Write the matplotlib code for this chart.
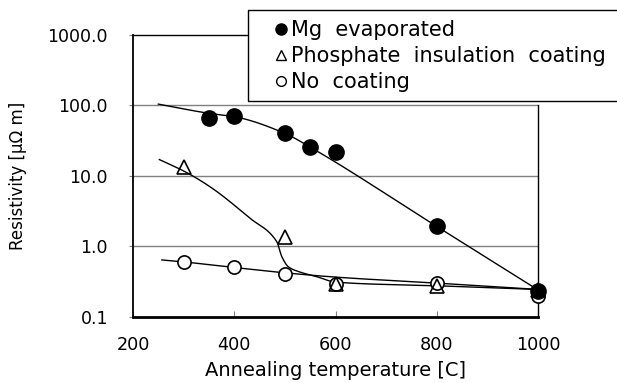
import numpy as np
import matplotlib
matplotlib.use('Agg')
import matplotlib.pyplot as plt
from matplotlib.lines import Line2D
from matplotlib.patches import Rectangle
from matplotlib.ticker import FixedLocator, FixedFormatter, NullLocator

plt.rcParams['font.family'] = ['DejaVu Sans']

# measured points
temp_mg = [350, 400, 500, 550, 600, 800, 1000]
res_mg = [66, 70, 40, 25.5, 22, 1.95, 0.23]

temp_ph = [300, 500, 600, 800, 1000]
res_ph = [13.5, 1.34, 0.29, 0.27, 0.24]

temp_nc = [300, 400, 500, 600, 800, 1000]
res_nc = [0.60, 0.51, 0.40, 0.29, 0.30, 0.20]

# hand drawn trend curves (guide points)
curve_mg_t = [250, 350, 400, 500, 550, 800, 1000]
curve_mg_r = [104, 77, 69, 40, 25.5, 1.91, 0.24]

curve_ph_t = [252, 303, 352, 431, 484, 494, 507, 530, 563, 600, 800, 1000]
curve_ph_r = [17, 11.4, 7.0, 2.5, 1.16, 0.71, 0.51, 0.43, 0.37, 0.31, 0.275, 0.244]

curve_nc_t = [257, 300, 400, 500, 600, 800, 1000]
curve_nc_r = [0.64, 0.60, 0.50, 0.42, 0.365, 0.30, 0.244]

labels = ['Mg  evaporated', 'Phosphate  insulation  coating', 'No  coating']
yticks = [0.1, 1, 10, 100, 1000]
ytick_labels = ['0.1', '1.0', '10.0', '100.0', '1000.0']
xticks = [200, 400, 600, 800, 1000]


def pchip(x, y, xs):
    # monotone cubic through the guide points
    x = np.asarray(x, float)
    y = np.asarray(y, float)
    h = np.diff(x)
    d = np.diff(y) / h
    m = np.zeros(len(x))
    m[0] = d[0]
    m[-1] = d[-1]
    for k in range(1, len(x) - 1):
        if d[k - 1] * d[k] <= 0:
            m[k] = 0
        else:
            w1 = 2 * h[k] + h[k - 1]
            w2 = h[k] + 2 * h[k - 1]
            m[k] = (w1 + w2) / (w1 / d[k - 1] + w2 / d[k])
    idx = np.clip(np.searchsorted(x, xs) - 1, 0, len(x) - 2)
    t = (xs - x[idx]) / h[idx]
    h00 = 2 * t**3 - 3 * t**2 + 1
    h10 = t**3 - 2 * t**2 + t
    h01 = -2 * t**3 + 3 * t**2
    h11 = t**3 - t**2
    return h00 * y[idx] + h10 * h[idx] * m[idx] + h01 * y[idx + 1] + h11 * h[idx] * m[idx + 1]


def smooth(t, r):
    xs = np.linspace(t[0], t[-1], 400)
    return xs, 10 ** pchip(t, np.log10(r), xs)


fig = plt.figure(figsize=(6.17, 3.83), dpi=100)
ax = fig.add_axes([0.2156, 0.173, 0.6564, 0.736])

ax.set_yscale('log')
ax.set_xlim(200, 1000)
ax.set_ylim(0.1, 1000)

for v in [1, 10, 100]:
    ax.axhline(v, color='#808080', lw=1, zorder=1)

for t, r in [(curve_mg_t, curve_mg_r), (curve_ph_t, curve_ph_r), (curve_nc_t, curve_nc_r)]:
    xs, ys = smooth(t, r)
    ax.plot(xs, ys, color='black', lw=1, zorder=2)

ax.plot(temp_nc, res_nc, 'o', ms=9.5, mfc='white', mec='black', mew=1.2, clip_on=False, zorder=3)
ax.plot(temp_ph, res_ph, '^', ms=9.5, mfc='none', mec='black', mew=1.2, clip_on=False, zorder=4)
ax.plot(temp_mg, res_mg, 'o', ms=11, color='black', clip_on=False, zorder=5)

ax.yaxis.set_major_locator(FixedLocator(yticks))
ax.yaxis.set_major_formatter(FixedFormatter(ytick_labels))
ax.yaxis.set_minor_locator(NullLocator())
ax.set_xticks(xticks)
ax.tick_params(axis='x', direction='in', length=4, color='#808080', pad=14, labelsize=12.7)
ax.tick_params(axis='y', direction='out', length=3, color='#808080', pad=15, labelsize=12.5)

ax.spines['left'].set_linewidth(1.3)
ax.spines['bottom'].set_linewidth(2)
ax.spines['top'].set_linewidth(1)
ax.spines['right'].set_linewidth(1)
ax.spines['right'].set_bounds(0.1, 100)

ax.set_xlabel('Annealing temperature [C]', fontsize=14)
ax.xaxis.label.set_va('center')
ax.xaxis.set_label_coords(0.5, -0.189)
ax.set_ylabel('Resistivity [\u03bc\u03a9 m]', fontsize=12)
ax.yaxis.label.set_va('center')
ax.yaxis.set_label_coords(-0.284, 0.5)

# legend box runs off the right edge of the picture
ax.add_patch(Rectangle((248 / 617, 1 - 101 / 383), 0.7, 91 / 383, transform=fig.transFigure,
                       facecolor='white', edgecolor='black', lw=1, zorder=10, clip_on=False))
handles = [Line2D([], [], marker='o', ls='', color='black', ms=8),
           Line2D([], [], marker='^', ls='', mfc='none', mec='black', ms=7, mew=1),
           Line2D([], [], marker='o', ls='', mfc='none', mec='black', ms=7, mew=1)]
leg = ax.legend(handles, labels, loc='upper left', bbox_to_anchor=(274 / 617, 1 - 20 / 383),
                bbox_transform=fig.transFigure, frameon=False, handlelength=0.7, handletextpad=0.1,
                labelspacing=0.3, borderpad=0, borderaxespad=0, fontsize=15)
leg.set_zorder(11)

fig.savefig('out.png', dpi=100)
